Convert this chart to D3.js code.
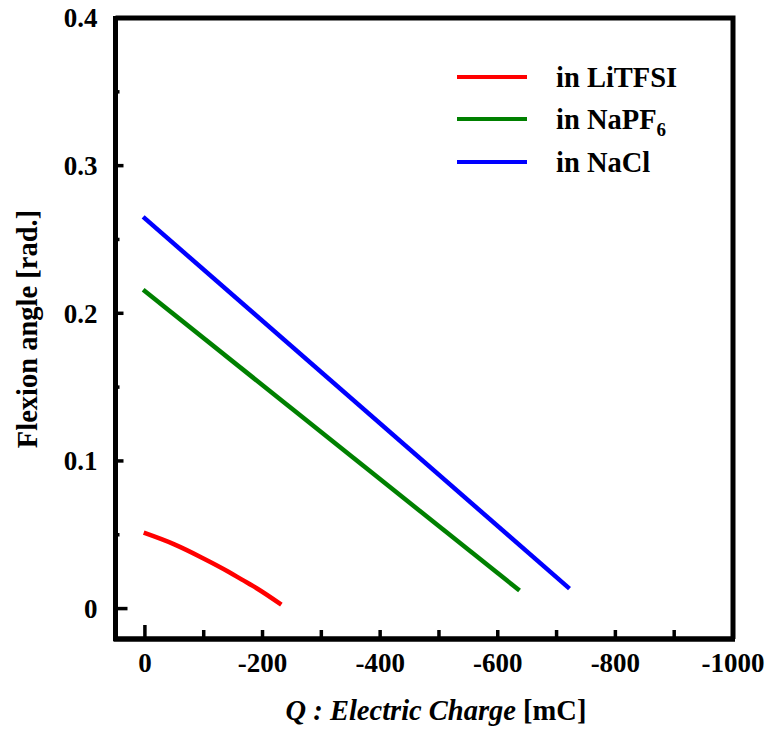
<!DOCTYPE html>
<html>
<head>
<meta charset="utf-8">
<script src="https://cdn.jsdelivr.net/npm/d3@7"></script>
<style>
  body { margin: 0; background: #fff; }
  svg text { font-family: "Liberation Serif", "Times New Roman", serif; font-weight: bold; }
</style>
</head>
<body>
<svg id="chart" width="769" height="730"></svg>
<script>
// series: [Q (mC), flexion angle (rad)]
const liTFSI = [[2, 0.0514], [-50, 0.0435], [-97, 0.0345], [-142, 0.025], [-165, 0.0196], [-190, 0.0138], [-232, 0.0027]]
const naPF6 = [[3, 0.2159], [-637, 0.0122]]
const naCl = [[3, 0.2653], [-722, 0.0135]]

const seriesNames = ['in LiTFSI', 'in NaPF', 'in NaCl']
const seriesColors = ['#ff0000', '#008000', '#0000ff']
const xTickValues = [0, -200, -400, -600, -800, -1000]
const yTickValues = [0, 0.1, 0.2, 0.3, 0.4]

const svg = d3.select('#chart')
const mLeft = 115.5, mRight = 733, mTop = 18, mBottom = 639

const x = d3.scaleLinear().domain([50, -1000]).range([mLeft, mRight])
const y = d3.scaleLinear().domain([-0.0206, 0.4]).range([mBottom, mTop])

// frame: top and right borders plain
svg.append('path')
    .attr('d', `M${mLeft},${mTop}H${mRight}V${mBottom}`)
    .attr('fill', 'none')
    .attr('stroke', '#000')
    .attr('stroke-width', 5)

// bottom axis, ticks pointing inwards
const xAxis = svg.append('g').attr('transform', `translate(0,${mBottom})`)
xAxis.append('line')
    .attr('x1', mLeft - 2).attr('x2', mRight + 2)
    .attr('stroke', '#000').attr('stroke-width', 5.5)
xAxis.selectAll('.tick')
    .data(d3.range(0, -1001, -100))
    .enter().append('line')
    .attr('x1', d => x(d)).attr('x2', d => x(d))
    .attr('y1', 0).attr('y2', d => d === 0 ? -14 : -9)
    .attr('stroke', '#000').attr('stroke-width', 3.5)
xAxis.selectAll('.lbl')
    .data(xTickValues)
    .enter().append('text')
    .attr('x', d => x(d)).attr('y', 33)
    .attr('text-anchor', 'middle')
    .attr('font-size', 27)
    .text(d => String(d))

// left axis
const yAxis = svg.append('g').attr('transform', `translate(${mLeft},0)`)
yAxis.append('line')
    .attr('y1', mTop - 2).attr('y2', mBottom + 2)
    .attr('stroke', '#000').attr('stroke-width', 5)
yAxis.selectAll('.tick')
    .data(d3.range(0, 0.401, 0.05))
    .enter().append('line')
    .attr('y1', d => y(d)).attr('y2', d => y(d))
    .attr('x1', 0).attr('x2', (d, i) => i === 0 ? 12 : (i % 2 === 0 ? 8 : 4))
    .attr('stroke', '#000').attr('stroke-width', 3.5)
yAxis.selectAll('.lbl')
    .data(yTickValues)
    .enter().append('text')
    .attr('x', -18).attr('y', d => y(d))
    .attr('dy', '0.35em')
    .attr('text-anchor', 'end')
    .attr('font-size', 27)
    .text(d => d === 0 ? '0' : d3.format('.1f')(d))

// axis titles
svg.append('text')
    .attr('transform', 'translate(37,329) rotate(-90)')
    .attr('text-anchor', 'middle')
    .attr('font-size', 28.5)
    .text('Flexion angle [rad.]')

const xt = svg.append('text')
    .attr('x', 436).attr('y', 720)
    .attr('text-anchor', 'middle')
    .attr('font-size', 28.5)
xt.append('tspan').attr('font-style', 'italic').text('Q : Electric Charge')
xt.append('tspan').text(' [mC]')

// curves
const line = d3.line().x(d => x(d[0])).y(d => y(d[1])).curve(d3.curveMonotoneX)
const allSeries = [liTFSI, naPF6, naCl]
svg.selectAll('.curve')
    .data(allSeries)
    .enter().append('path')
    .attr('d', line)
    .attr('fill', 'none')
    .attr('stroke', (d, i) => seriesColors[i])
    .attr('stroke-width', 4.5)

// legend
const legend = svg.append('g')
const rowY = [77, 119, 162]
seriesNames.forEach((name, i) => {
    legend.append('line')
        .attr('x1', 457).attr('x2', 527)
        .attr('y1', rowY[i]).attr('y2', rowY[i])
        .attr('stroke', seriesColors[i]).attr('stroke-width', 4)
    const t = legend.append('text')
        .attr('x', 556).attr('y', rowY[i])
        .attr('dy', '0.35em')
        .attr('font-size', 28.5)
        .text(name)
    if (i === 1) {
        t.append('tspan').attr('font-size', 19).attr('dy', 7).text('6')
    }
})
</script>
</body>
</html>
